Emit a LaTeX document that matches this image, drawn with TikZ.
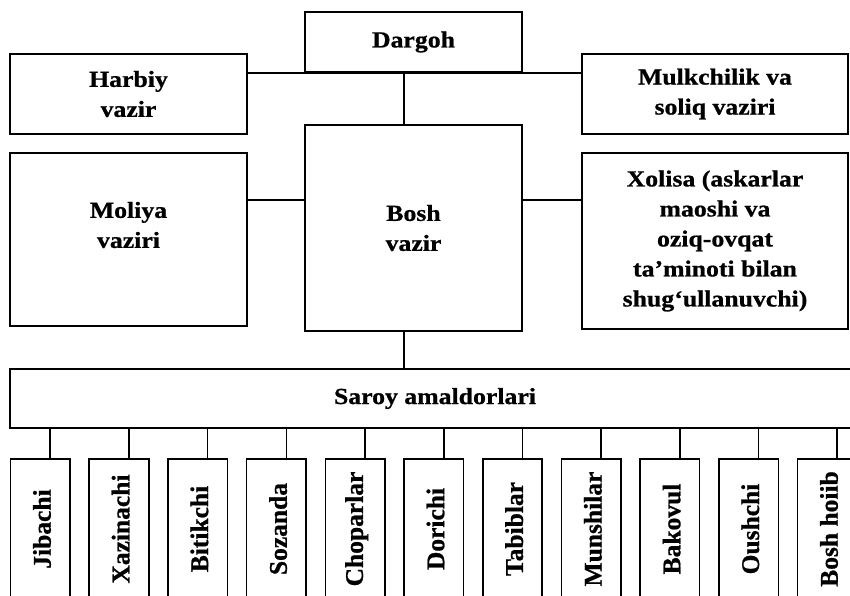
\documentclass[tikz,border=0pt]{standalone}
\usepackage{fontspec}
\newfontfamily\hfont{Liberation Serif}[FakeStretch=1.12,FakeBold=0.8]
\newfontfamily\vfont{Liberation Serif}[FakeBold=0.8]
\usetikzlibrary{calc}
\begin{document}
\begin{tikzpicture}[x=1pt,y=-1pt,
  box/.style={draw, line width=1.6pt, inner sep=0pt, align=center,
    font={\hfont\bfseries\fontsize{23}{30}\selectfont}},
  lab/.style={inner sep=0pt, align=center,
    font={\hfont\bfseries\fontsize{23}{30}\selectfont}},
  sbox/.style={draw, line width=1.6pt, inner sep=0pt, minimum width=59.5pt, minimum height=161pt},
  vlab/.style={rotate=90, inner sep=0pt, font={\vfont\bfseries\fontsize{25.5}{30}\selectfont}},
  link/.style={line width=1.6pt}]
\useasboundingbox (0,0) rectangle (850,595);
\fill[white] (0,0) rectangle (850,595);
\clip (0,0) rectangle (850,595);

\node[box, minimum width=217pt, minimum height=60pt] (dargoh) at (413.5,42) {Dargoh};
\node[box, minimum width=237pt, minimum height=80pt] (harbiy) at (128.5,94) {Harbiy\\vazir};
\node[box, minimum width=266pt, minimum height=80pt] (mulk) at (715,94) {Mulkchilik va\\soliq vaziri};
\node[box, minimum width=237pt, minimum height=173pt] (moliya) at (128.5,239.5) {};
\node[lab] (moliyat) at (128.5,225) {Moliya\\vaziri};
\node[box, minimum width=217pt, minimum height=206pt] (bosh) at (413.5,228) {Bosh\\vazir};
\node[box, minimum width=266pt, minimum height=176pt] (xolisa) at (715,241) {Xolisa (askarlar\\maoshi va\\oziq-ovqat\\ta’minoti bilan\\shug‘ullanuvchi)};
\node[box, minimum width=850pt, minimum height=59pt] (saroy) at (435,398.5) {Saroy amaldorlari};

\draw[link] (harbiy.east |- dargoh.south) -- (mulk.west |- dargoh.south);
\draw[link] ([xshift=-9.5pt]dargoh.south) -- ([xshift=-9.5pt]dargoh.south |- bosh.north);
\draw[link] ([yshift=39.5pt]moliya.east) -- ([yshift=39.5pt]moliya.east -| bosh.west);
\draw[link] ([yshift=28pt]bosh.east) -- ([yshift=28pt]bosh.east -| xolisa.west);
\draw[link] ([xshift=-9.5pt]bosh.south) -- ([xshift=-9.5pt]bosh.south |- saroy.north);

\foreach \n [count=\i from 0] in {Jibachi, Xazinachi, Bitikchi, Sozanda, Choparlar, Dorichi, Tabiblar, Munshilar, Bakovul, Oushchi, Bosh hoiib} {
  \node[sbox] (b\i) at ({40.25+78.7*\i},539.5) {};
  \node[vlab] (t\i) at ({42+78.7*\i},529) {\n};
  \draw[link] ([xshift=10pt]b\i.north) -- ([xshift=10pt]b\i.north |- saroy.south);
}
\end{tikzpicture}
\end{document}
